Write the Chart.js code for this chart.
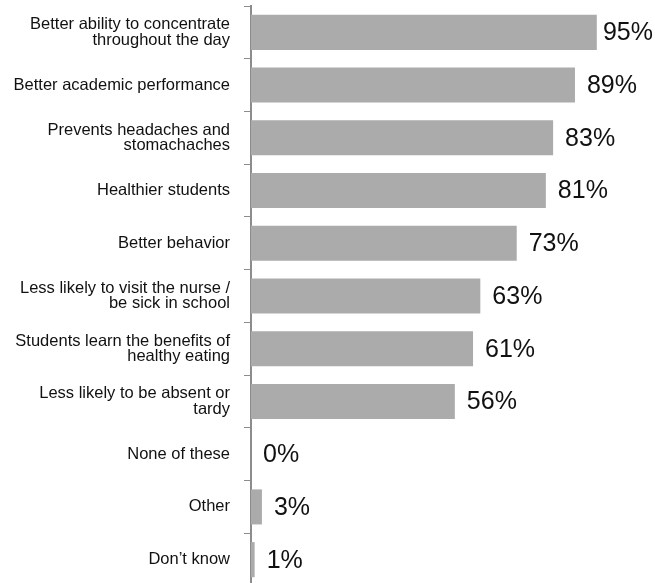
<!DOCTYPE html>
<html>
<head>
<meta charset="utf-8">
<script src="https://cdn.jsdelivr.net/npm/chart.js@4"></script>
<style>
  html, body { margin: 0; padding: 0; background: #fff; overflow: hidden; }
  #wrap { width: 655px; height: 586px; }
</style>
</head>
<body>
<div id="wrap"><canvas id="benefitsChart" width="655" height="586"></canvas></div>
<script>
const categories = [
  ["Better ability to concentrate", "throughout the day"],
  "Better academic performance",
  ["Prevents headaches and", "stomachaches"],
  "Healthier students",
  "Better behavior",
  ["Less likely to visit the nurse /", "be sick in school"],
  ["Students learn the benefits of", "healthy eating"],
  ["Less likely to be absent or", "tardy"],
  "None of these",
  "Other",
  "Don\u2019t know",
];
const values = [95, 89, 83, 81, 73, 63, 61, 56, 0, 3, 1];

const axisColor = "#8c8c8c";
const barColor = "#ababab";

const valueLabels = {
  id: "valueLabels",
  afterDatasetsDraw: function (chart) {
    const ctx = chart.ctx;
    const meta = chart.getDatasetMeta(0);
    ctx.save();
    ctx.font = "25px 'Liberation Sans', Arial, sans-serif";
    ctx.fillStyle = "#111";
    ctx.textBaseline = "middle";
    ctx.textAlign = "left";
    meta.data.forEach((bar, i) => {
      const text = values[i] + "%";
      const w = ctx.measureText(text).width;
      let x = bar.x + 12;
      if (x + w > chart.width - 2) {
        x = chart.width - 2 - w;
      }
      ctx.fillText(text, x, bar.y + 1);
    });
    ctx.restore();
  },
};

const ctx = document.getElementById("benefitsChart").getContext("2d");
new Chart(ctx, {
  type: "bar",
  data: {
    labels: categories,
    datasets: [
      {
        data: values,
        backgroundColor: barColor,
        borderWidth: 0,
        categoryPercentage: 1,
        barPercentage: 0.665,
      },
    ],
  },
  options: {
    indexAxis: "y",
    responsive: false,
    animation: false,
    layout: {
      padding: { top: 6, right: 40, bottom: 0, left: 0 },
    },
    plugins: {
      legend: { display: false },
      tooltip: { enabled: false },
    },
    scales: {
      x: {
        display: false,
        min: 0,
        max: 100,
      },
      y: {
        afterFit: function (scale) {
          scale.width = 251;
          scale.paddingTop = 0;
          scale.paddingBottom = 0;
        },
        grid: {
          drawOnChartArea: false,
          drawTicks: true,
          tickLength: 7,
          color: axisColor,
          lineWidth: 1,
        },
        border: {
          display: true,
          color: axisColor,
          width: 2,
        },
        ticks: {
          color: "#111",
          padding: 14,
          font: {
            family: "'Liberation Sans', Arial, sans-serif",
            size: 16.5,
            lineHeight: 0.92,
          },
        },
      },
    },
  },
  plugins: [valueLabels],
});
</script>
</body>
</html>
